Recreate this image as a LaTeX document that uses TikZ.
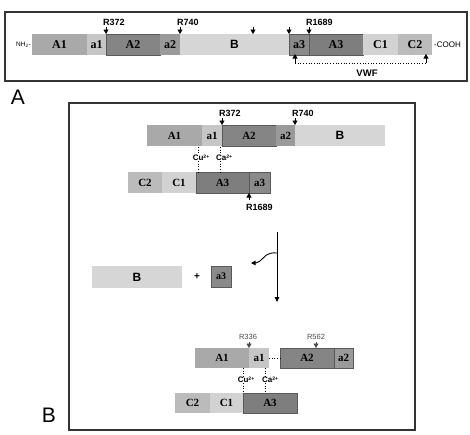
\documentclass[tikz,border=0pt]{standalone}
\usepackage{fontspec}
\setmainfont{Liberation Serif}
\setsansfont{Liberation Sans}
\usetikzlibrary{arrows.meta}
\definecolor{cAA}{HTML}{A9A9A9}
\definecolor{caa}{HTML}{C6C6C6}
\definecolor{cAB}{HTML}{858585}
\definecolor{cab}{HTML}{9A9A9A}
\definecolor{cB}{HTML}{D6D6D6}
\definecolor{cac}{HTML}{8A8A8A}
\definecolor{cAC}{HTML}{7E7E7E}
\definecolor{cCA}{HTML}{D2D2D2}
\definecolor{cCB}{HTML}{BBBBBB}
\definecolor{frm}{HTML}{333333}
\tikzset{
  seg/.style={inner sep=0pt, outer sep=0pt, minimum height=21pt, font=\rmfamily\bfseries\fontsize{12}{12}\selectfont},
  segb/.style={seg, font=\rmfamily\bfseries\fontsize{11}{11}\selectfont},
  dk/.style={draw=black!65, line width=0.6pt},
  lab/.style={inner sep=0pt, font=\sffamily\bfseries\fontsize{9}{9}\selectfont},
  slab/.style={inner sep=0pt, font=\sffamily\fontsize{7.5}{7.5}\selectfont, text=black!70},
  ion/.style={inner sep=0pt, font=\sffamily\bfseries\fontsize{8}{8}\selectfont},
  mk/.style={line width=0.7pt, -{Triangle[width=5pt,length=4.5pt]}},
  frame/.style={draw=frm, line width=1.3pt},
  dots/.style={line width=0.7pt, dotted},
  big/.style={inner sep=0pt, font=\sffamily\fontsize{21}{21}\selectfont}
}
\newcommand{\ionlab}[2]{#1\raisebox{0.45ex}{\fontsize{5}{5}\selectfont #2}}
\begin{document}
\begin{tikzpicture}[x=1pt,y=-1pt]
\useasboundingbox (0,0) rectangle (470,434);
% ---------------- Panel A ----------------
\draw[frame] (5,12) rectangle (467,81);
\node[big] (labA) at (18,97) {A};
\node[seg, fill=cAA, minimum width=55pt] (pA1) at (59.5,44.5) {A1};
\node[seg, fill=caa, minimum width=19pt] (pa1) at (96.5,44.5) {a1};
\node[seg, fill=cAB, dk, minimum width=54pt] (pA2) at (133,44.5) {A2};
\node[seg, fill=cab, minimum width=20pt] (pa2) at (170,44.5) {a2};
\node[seg, fill=cB, minimum width=109pt, font=\sffamily\bfseries\fontsize{12}{12}\selectfont] (pB) at (234.5,44.5) {B};
\node[seg, fill=cac, dk, minimum width=20pt] (pa3) at (299,44.5) {a3};
\node[seg, fill=cAC, dk, minimum width=54pt] (pA3) at (336,44.5) {A3};
\node[seg, fill=cCA, minimum width=35pt] (pC1) at (380.5,44.5) {C1};
\node[seg, fill=cCB, minimum width=34pt] (pC2) at (415,44.5) {C2};
\node[inner sep=0pt, anchor=east, font=\sffamily\fontsize{6.5}{6.5}\selectfont] (nh2) at (31,44.5) {NH\textsubscript{2}-};
\node[inner sep=0pt, anchor=west, font=\sffamily\fontsize{8}{8}\selectfont] (cooh) at (434,44.5) {-COOH};
\node[lab, anchor=base west] (r372) at (103,25) {R372};
\node[lab, anchor=base west] (r740) at (177,25) {R740};
\node[lab, anchor=base west] (r1689) at (306,25) {R1689};
\coordinate (m1) at (253,27);
\coordinate (m2) at (289,27);
\draw[mk] (pA2.north west) ++(0,-7) -- (pA2.north west);
\draw[mk] (pB.north west) ++(0,-7) -- (pB.north west);
\draw[mk] (m1) -- (m1 |- pB.north);
\draw[mk] (m2) -- (m2 |- pB.north);
\draw[mk] (pA3.north west) ++(0,-7) -- (pA3.north west);
\coordinate (v1) at (295,63);
\coordinate (v2) at (426,63);
\draw[dots] (v1) -- (v2);
\draw[mk] (v1) -- ([yshift=1pt]v1 |- pa3.south);
\draw[mk] (v2) -- ([yshift=1pt]v2 |- pC2.south);
\node[lab, font=\sffamily\bfseries\fontsize{9.5}{9.5}\selectfont] (vwf) at (367,73) {VWF};
% ---------------- Panel B ----------------
\draw[frame] (69,103) rectangle (415,430);
\node[big] (labB) at (49,415) {B};
% top bar
\node[segb, fill=cAA, minimum width=55pt] (qA1) at (174.5,135.5) {A1};
\node[segb, fill=caa, minimum width=20pt] (qa1) at (212,135.5) {a1};
\node[segb, fill=cAB, dk, minimum width=54pt] (qA2) at (249,135.5) {A2};
\node[segb, fill=cab, minimum width=19pt] (qa2) at (285.5,135.5) {a2};
\node[segb, fill=cB, minimum width=90pt, font=\sffamily\bfseries\fontsize{12}{12}\selectfont] (qB) at (340,135.5) {B};
\node[lab, anchor=base west] (q372) at (219,116) {R372};
\node[lab, anchor=base west] (q740) at (292,116) {R740};
\draw[mk] (qA2.north west) ++(0,-7) -- (qA2.north west);
\draw[mk] (qB.north west) ++(0,-7) -- (qB.north west);
% ions
\node[ion] (qcu) at (201,158) {\ionlab{Cu}{2+}};
\node[ion] (qca) at (224,158) {\ionlab{Ca}{2+}};
% lower bar
\node[segb, fill=cCB, minimum width=34pt] (qC2) at (145,182.5) {C2};
\node[segb, fill=cCA, minimum width=34pt] (qC1) at (179,182.5) {C1};
\node[segb, fill=cAC, dk, minimum width=53pt] (qA3) at (222.5,182.5) {A3};
\node[segb, fill=cac, dk, minimum width=21pt] (qa3) at (259.5,182.5) {a3};
\draw[dots] (198,147) -- (198,147 |- qcu.north);
\draw[dots] (198,147 |- qcu.south) -- (198,172);
\draw[dots] (220,147) -- (220,147 |- qca.north);
\draw[dots] (220,147 |- qca.south) -- (220,172);
\node[lab, anchor=base west] (q1689) at (246,210) {R1689};
\draw[mk] (qa3.south west) ++(0,7) -- (qa3.south west);
% middle
\node[segb, fill=cB, minimum width=90pt, minimum height=22pt, font=\sffamily\bfseries\fontsize{12}{12}\selectfont] (mB) at (137,277) {B};
\node[inner sep=0pt, font=\sffamily\bfseries\fontsize{10}{10}\selectfont] (plus) at (197,277) {+};
\node[segb, fill=cac, dk, minimum width=20pt, font=\rmfamily\bfseries\fontsize{10}{10}\selectfont] (ma3) at (221,276.5) {a3};
\coordinate (vt) at (277,232);
\coordinate (vb) at (277,302);
\coordinate (cv) at (277,253);
\coordinate (ce) at (251,263);
\draw[line width=0.9pt, -{Triangle[width=4.5pt,length=5pt]}] (vt) -- (vb);
\draw[line width=0.9pt, -{Triangle[width=4.5pt,length=4.5pt]}] (cv) .. controls (266,252) and (265,257) .. (260,261) .. controls (257,263) and (255,263) .. (ce);
% bottom bar
\node[segb, fill=cAA, minimum width=54pt, minimum height=20pt] (rA1) at (222,358) {A1};
\node[segb, fill=caa, minimum width=20pt, minimum height=20pt] (ra1) at (259,358) {a1};
\node[segb, fill=cAB, dk, minimum width=54pt, minimum height=20pt] (rA2) at (307,358) {A2};
\node[segb, fill=cab, dk, minimum width=19pt, minimum height=20pt] (ra2) at (343.5,358) {a2};
\draw[dots] (ra1.east) -- (rA2.west);
\node[slab, anchor=base] (r336) at (248,339) {R336};
\node[slab, anchor=base] (r562) at (316,339) {R562};
\draw[mk, black!70] (ra1.north west) ++(0,-6) -- (ra1.north west);
\draw[mk, black!70] (rA2.north) ++(9,-6) -- ++(0,6);
\node[ion] (rcu) at (246,380) {\ionlab{Cu}{2+}};
\node[ion] (rca) at (270,380) {\ionlab{Ca}{2+}};
\node[segb, fill=cCB, minimum width=35pt, minimum height=20pt] (rC2) at (192.5,403) {C2};
\node[segb, fill=cCA, minimum width=33pt, minimum height=20pt] (rC1) at (226.5,403) {C1};
\node[segb, fill=cAC, dk, minimum width=54pt, minimum height=20pt] (rA3) at (270,403) {A3};
\draw[dots] (243,368) -- (243,368 |- rcu.north);
\draw[dots] (243,368 |- rcu.south) -- (243,393);
\draw[dots] (265,368) -- (265,368 |- rca.north);
\draw[dots] (265,368 |- rca.south) -- (265,393);
\end{tikzpicture}
\end{document}
